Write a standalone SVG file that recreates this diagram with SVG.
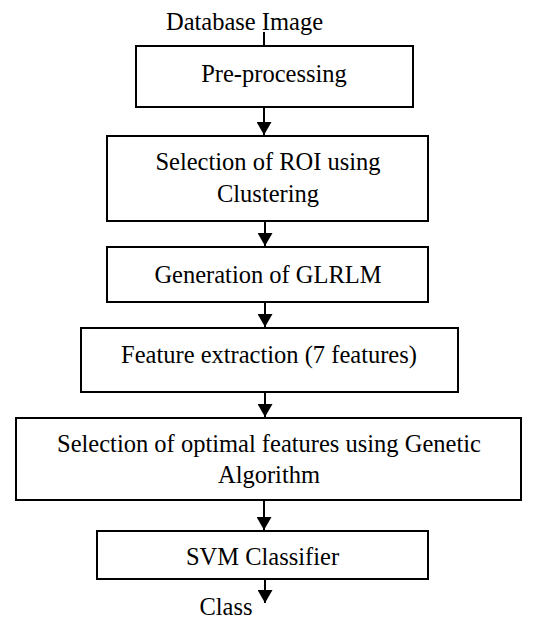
<svg xmlns="http://www.w3.org/2000/svg" width="559" height="622" viewBox="0 0 559 622">
<defs>
<marker id="ah" viewBox="0 0 13 15" refX="13" refY="7.5" markerWidth="13" markerHeight="15" markerUnits="userSpaceOnUse" orient="auto">
<path d="M0,0 L13,7.5 L0,15 Z" fill="#000"/>
</marker>
<style>
.box{fill:#fff;stroke:#000;stroke-width:2}
.t{font-family:"Liberation Serif","Times New Roman",serif;font-size:24.5px;fill:#000;text-anchor:middle}
.c{stroke:#000;stroke-width:2;fill:none}
</style>
</defs>
<rect width="559" height="622" fill="#fff"/>
<g id="connectors">
<line class="c" x1="264" y1="32" x2="264" y2="62" marker-end="url(#ah)"/>
<line class="c" x1="264" y1="107" x2="264" y2="135" marker-end="url(#ah)"/>
<line class="c" x1="265" y1="221" x2="265" y2="246" marker-end="url(#ah)"/>
<line class="c" x1="265" y1="302" x2="265" y2="327" marker-end="url(#ah)"/>
<line class="c" x1="265" y1="392" x2="265" y2="417" marker-end="url(#ah)"/>
<line class="c" x1="264" y1="500" x2="264" y2="530" marker-end="url(#ah)"/>
<line class="c" x1="265" y1="579" x2="265" y2="603" marker-end="url(#ah)"/>
</g>
<g id="start"><text class="t" x="244.5" y="30">Database Image</text></g>
<g id="preprocessing">
<rect class="box" x="136" y="46" width="277" height="61"/>
<text class="t" x="274" y="82">Pre-processing</text>
</g>
<g id="roi">
<rect class="box" x="107" y="136" width="321" height="85"/>
<text class="t" x="268" y="170">Selection of ROI using</text>
<text class="t" x="268" y="202">Clustering</text>
</g>
<g id="glrlm">
<rect class="box" x="107" y="247" width="321" height="55"/>
<text class="t" x="268" y="283">Generation of GLRLM</text>
</g>
<g id="features">
<rect class="box" x="81" y="328" width="377" height="64"/>
<text class="t" x="269" y="363">Feature extraction (7 features)</text>
</g>
<g id="ga">
<rect class="box" x="16" y="418" width="505" height="82"/>
<text class="t" x="269" y="452">Selection of optimal features using Genetic</text>
<text class="t" x="269" y="483">Algorithm</text>
</g>
<g id="svm">
<rect class="box" x="97" y="531" width="331" height="48"/>
<text class="t" x="262.5" y="565">SVM Classifier</text>
</g>
<g id="end"><text class="t" x="226" y="615">Class</text></g>
</svg>
